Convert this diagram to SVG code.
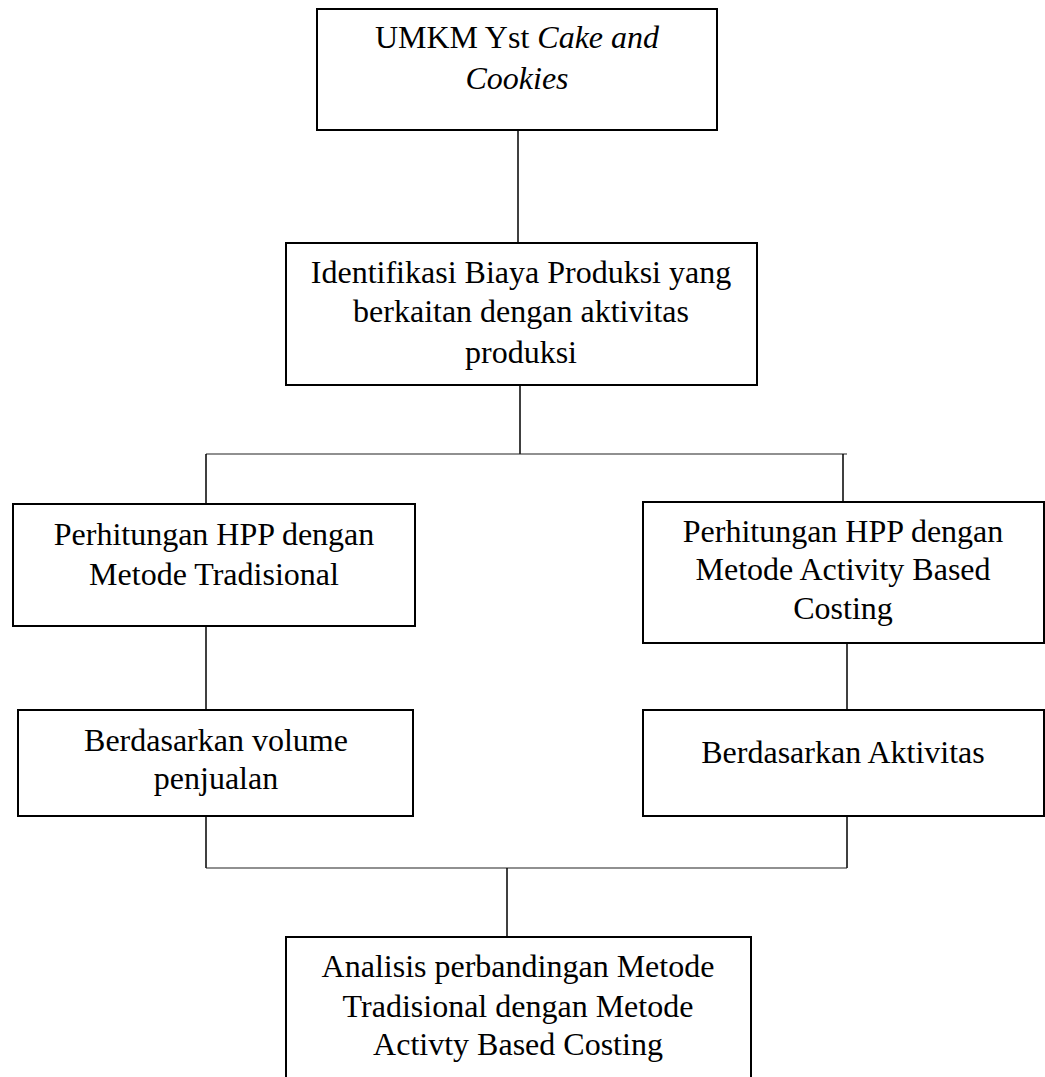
<svg xmlns="http://www.w3.org/2000/svg" width="1045" height="1077" viewBox="0 0 1045 1077">
<style>
.box{fill:#fff;stroke:#000;stroke-width:2}
.c{stroke:#000;stroke-width:1.5;fill:none}
.h{stroke:#222;stroke-width:1.2;fill:none}
text{font-family:"Liberation Serif","Times New Roman",serif;font-size:32px;fill:#000;text-anchor:middle}
</style>
<rect width="1045" height="1077" fill="#fff"/>
<g id="connectors">
<line class="c" x1="518" y1="130" x2="518" y2="243"/>
<line class="c" x1="520" y1="385" x2="520" y2="454"/>
<line class="h" x1="206" y1="454" x2="847" y2="454"/>
<line class="c" x1="206" y1="454" x2="206" y2="504"/>
<line class="c" x1="843" y1="454" x2="843" y2="502"/>
<line class="c" x1="206" y1="626" x2="206" y2="710"/>
<line class="c" x1="847" y1="643" x2="847" y2="710"/>
<line class="c" x1="206" y1="816" x2="206" y2="868"/>
<line class="c" x1="847" y1="816" x2="847" y2="868"/>
<line class="h" x1="206" y1="868" x2="847" y2="868"/>
<line class="c" x1="507" y1="868" x2="507" y2="937"/>
</g>
<g id="n1">
<rect class="box" x="317" y="9" width="400" height="121"/>
<text x="517" y="48">UMKM Yst <tspan font-style="italic">Cake and</tspan></text>
<text x="517" y="89" font-style="italic">Cookies</text>
</g>
<g id="n2">
<rect class="box" x="286" y="243" width="471" height="142"/>
<text x="521" y="283">Identifikasi Biaya Produksi yang</text>
<text x="521" y="322">berkaitan dengan aktivitas</text>
<text x="521" y="363">produksi</text>
</g>
<g id="n3">
<rect class="box" x="13" y="504" width="402" height="122"/>
<text x="214" y="545">Perhitungan HPP dengan</text>
<text x="214" y="585">Metode Tradisional</text>
</g>
<g id="n4">
<rect class="box" x="643" y="502" width="401" height="141"/>
<text x="843" y="542">Perhitungan HPP dengan</text>
<text x="843" y="580">Metode Activity Based</text>
<text x="843" y="619">Costing</text>
</g>
<g id="n5">
<rect class="box" x="18" y="710" width="395" height="106"/>
<text x="216" y="751">Berdasarkan volume</text>
<text x="216" y="789">penjualan</text>
</g>
<g id="n6">
<rect class="box" x="643" y="710" width="401" height="106"/>
<text x="843" y="763">Berdasarkan Aktivitas</text>
</g>
<g id="n7">
<rect class="box" x="286" y="937" width="465" height="160"/>
<text x="518" y="977">Analisis perbandingan Metode</text>
<text x="518" y="1017">Tradisional dengan Metode</text>
<text x="518" y="1055">Activty Based Costing</text>
</g>
</svg>
